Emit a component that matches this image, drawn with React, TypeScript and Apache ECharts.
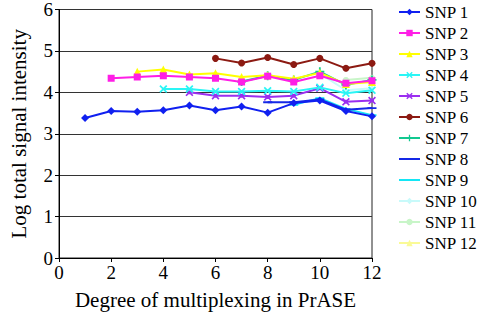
import React, { useEffect, useRef } from "react";
import * as echarts from "echarts";

const seriesNames = ["SNP 1", "SNP 2", "SNP 3", "SNP 4", "SNP 5", "SNP 6", "SNP 7", "SNP 8", "SNP 9", "SNP 10", "SNP 11", "SNP 12"];
const startX = [1, 2, 3, 4, 5, 6, 7, 8, 9, 10, 11, 12];
const snp1 = [3.38, 3.55, 3.53, 3.57, 3.68, 3.57, 3.66, 3.51, 3.74, 3.8, 3.55, 3.42];
const snp2 = [4.34, 4.37, 4.4, 4.37, 4.34, 4.25, 4.39, 4.25, 4.4, 4.22, 4.28];
const snp3 = [4.5, 4.55, 4.43, 4.46, 4.37, 4.41, 4.33, 4.47, 4.2, 4.25];
const snp4 = [4.08, 4.08, 4.02, 4.02, 4.04, 4.02, 4.12, 3.98, 4.05];
const snp5 = [4.0, 3.92, 3.92, 3.89, 3.92, 4.1, 3.77, 3.8];
const snp6 = [4.82, 4.71, 4.84, 4.67, 4.82, 4.58, 4.7];
const snp7 = [4.26, 4.4, 4.3, 4.5, 4.18, 4.3];
const snp8 = [3.76, 3.76, 3.83, 3.58, 3.62];
const snp9 = [3.7, 3.86, 3.6, 3.45];
const snp10 = [4.45, 4.05, 4.1];
const snp11 = [4.3, 4.35];
const snp12 = [4.25];
const allValues = [snp1, snp2, snp3, snp4, snp5, snp6, snp7, snp8, snp9, snp10, snp11, snp12];
const colors = ["#1020f0", "#ff1ee6", "#ffff00", "#2af5f5", "#9a2ef0", "#8c1a12", "#12c890", "#1428e6", "#14e6f5", "#c8fafa", "#c8f5c8", "#fafa96"];

const X_SHAPE = "path://M0,1.5L1.5,0L5,3.5L8.5,0L10,1.5L6.5,5L10,8.5L8.5,10L5,6.5L1.5,10L0,8.5L3.5,5Z";
const X_BOX = "path://M0,1.5L1.5,0L5,3.5L8.5,0L10,1.5L6.5,5L10,8.5L8.5,10L5,6.5L1.5,10L0,8.5L3.5,5Z M2.5,2.5H7.5V7.5H2.5Z";
const PLUS = "path://M4,0H6V4H10V6H6V10H4V6H0V4H4Z";
const DASH = "path://M0,4H10V6H0Z M5,0L5.01,0L5,0.01Z M5,10L5.01,10L5,9.99Z";
const symbols = ["diamond", "rect", "triangle", X_SHAPE, X_BOX, "circle", PLUS, DASH, DASH, "diamond", "circle", "triangle"];
const symbolSizes = [8, 7, 8, 8, 8, 7, 9, 9, 9, 6, 6, 7];

const FONT = "Liberation Serif";

export default function App() {
  const ref = useRef<HTMLDivElement>(null);
  useEffect(() => {
    if (!ref.current) return;
    const chart = echarts.init(ref.current, undefined, { renderer: "svg" });
    const series = allValues.map((vals, i) => ({
      name: seriesNames[i],
      type: "line",
      data: vals.map((v, j) => [startX[i] + j, v]),
      symbol: symbols[i],
      symbolSize: symbolSizes[i],
      symbolKeepAspect: true,
      showSymbol: true,
      lineStyle: { color: colors[i], width: 2 },
      itemStyle: { color: colors[i] },
      z: 12 - i,
    }));
    chart.setOption({
      animation: false,
      backgroundColor: "#ffffff",
      grid: {
        left: 53,
        right: 106,
        top: 9,
        bottom: 56,
        show: true,
        borderColor: "#222",
        borderWidth: 1,
      },
      legend: {
        orient: "vertical",
        left: 398,
        top: 3,
        padding: 0,
        itemWidth: 21,
        itemHeight: 8,
        itemGap: 3,
        textStyle: { fontFamily: FONT, fontSize: 17, color: "#000", lineHeight: 18 },
        data: seriesNames,
      },
      xAxis: {
        type: "value",
        min: 0,
        max: 12,
        interval: 2,
        name: "Degree of multiplexing in PrASE",
        nameLocation: "middle",
        nameGap: 31,
        nameTextStyle: { fontFamily: FONT, fontSize: 21, color: "#000" },
        axisLine: { show: true, lineStyle: { color: "#000", width: 1 } },
        axisTick: { show: true, inside: false, length: 4, lineStyle: { color: "#000" } },
        axisLabel: { fontFamily: FONT, fontSize: 19, color: "#000", margin: 5 },
        splitLine: { show: false },
      },
      yAxis: {
        type: "value",
        min: 0,
        max: 6,
        interval: 1,
        name: "Log total signal intensity",
        nameLocation: "middle",
        nameGap: 30,
        nameTextStyle: { fontFamily: FONT, fontSize: 21, color: "#000" },
        axisLine: { show: true, lineStyle: { color: "#000", width: 1 } },
        axisTick: { show: true, inside: false, length: 4, lineStyle: { color: "#000" } },
        axisLabel: { fontFamily: FONT, fontSize: 19, color: "#000", margin: 6 },
        splitLine: { show: true, lineStyle: { color: "#333", width: 1 } },
      },
      series,
    });
    return () => chart.dispose();
  }, []);
  return <div ref={ref} style={{ width: 478, height: 315, position: "absolute", left: 0, top: 0 }} />;
}
